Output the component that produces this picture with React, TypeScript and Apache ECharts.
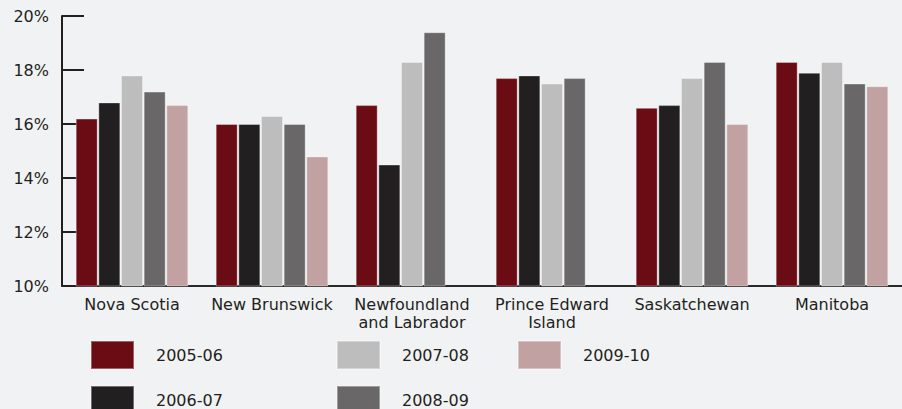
import React, { useEffect, useRef } from "react";
import * as echarts from "echarts";

const categories = [
  "Nova Scotia",
  "New Brunswick",
  "Newfoundland\nand Labrador",
  "Prince Edward\nIsland",
  "Saskatchewan",
  "Manitoba",
];
const seriesNames = ["2005-06", "2006-07", "2007-08", "2008-09", "2009-10"];
const s2005_06 = [16.2, 16.0, 16.7, 17.7, 16.6, 18.3];
const s2006_07 = [16.8, 16.0, 14.5, 17.8, 16.7, 17.9];
const s2007_08 = [17.8, 16.3, 18.3, 17.5, 17.7, 18.3];
const s2008_09 = [17.2, 16.0, 19.4, 17.7, 18.3, 17.5];
const s2009_10 = [16.7, 14.8, null, null, 16.0, 17.4];
const seriesColors = ["#6b0b13", "#221f20", "#bdbdbd", "#696768", "#c2a1a2"];

const FONT = "DejaVu Sans";
const TEXT = "#231f20";

// legend slot per series: [left, top]
const legendSlots = [
  [90, 340],
  [90, 385],
  [336, 340],
  [336, 385],
  [517, 340],
];

export default function App() {
  const ref = useRef<HTMLDivElement>(null);
  useEffect(() => {
    if (!ref.current) return;
    const chart = echarts.init(ref.current, null, { renderer: "svg" });
    const values = [s2005_06, s2006_07, s2007_08, s2008_09, s2009_10];
    chart.setOption({
      animation: false,
      backgroundColor: "#f1f2f4",
      textStyle: { fontFamily: FONT },
      grid: { left: 62, top: 16, width: 851, bottom: 123, containLabel: false },
      legend: seriesNames.map((name, i) => ({
        orient: "horizontal",
        left: legendSlots[i][0],
        top: legendSlots[i][1],
        padding: 0,
        itemWidth: 43,
        itemHeight: 28,
        icon: "rect",
        selectedMode: false,
        data: [name],
        textStyle: {
          fontFamily: FONT,
          fontSize: 16,
          color: TEXT,
          padding: [0, 0, 4, 17],
        },
      })),
      xAxis: {
        type: "category",
        data: categories,
        axisLine: { show: true, lineStyle: { color: "#2b2a2a", width: 2 } },
        axisTick: {
          show: true,
          inside: true,
          alignWithLabel: true,
          length: 6,
          lineStyle: { color: TEXT, width: 2 },
        },
        axisLabel: {
          fontFamily: FONT,
          fontSize: 16,
          color: TEXT,
          lineHeight: 18,
          margin: 9,
          interval: 0,
        },
      },
      yAxis: {
        type: "value",
        min: 10,
        max: 20,
        interval: 2,
        axisLine: { show: true, lineStyle: { color: TEXT, width: 2 } },
        axisTick: {
          show: true,
          inside: true,
          length: 22,
          lineStyle: { color: TEXT, width: 2 },
        },
        splitLine: { show: false },
        axisLabel: {
          formatter: "{value}%",
          fontFamily: FONT,
          fontSize: 16,
          color: TEXT,
          margin: 13,
          padding: [10, 0, 0, 0],
        },
      },
      series: seriesNames.map((name, i) => ({
        name,
        type: "bar",
        data: values[i],
        barWidth: 22,
        barGap: "3%",
        itemStyle: {
          color: seriesColors[i],
          borderColor: "rgba(255,255,255,0.35)",
          borderWidth: 1,
        },
      })),
    });
    return () => chart.dispose();
  }, []);
  return (
    <div
      ref={ref}
      style={{ position: "fixed", left: 0, top: 0, width: 902, height: 409 }}
    />
  );
}
